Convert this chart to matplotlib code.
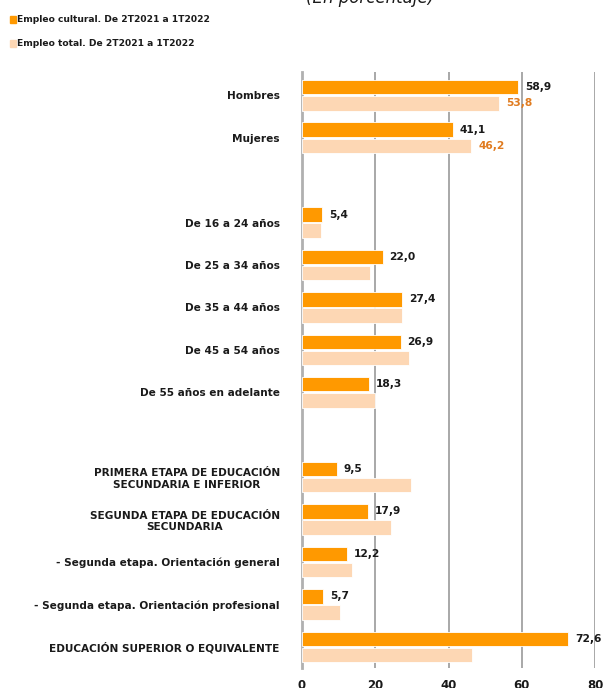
import matplotlib.pyplot as plt
from matplotlib.patches import Rectangle

plt.rcParams['font.family'] = ['DejaVu Sans']

# Categories (empty strings are spacer rows between groups)
categories = [
    "Hombres", "Mujeres", "",
    "De 16 a 24 años", "De 25 a 34 años", "De 35 a 44 años",
    "De 45 a 54 años", "De 55 años en adelante", "",
    "PRIMERA ETAPA DE EDUCACIÓN\nSECUNDARIA E INFERIOR",
    "SEGUNDA ETAPA DE EDUCACIÓN\nSECUNDARIA",
    "- Segunda etapa. Orientación general",
    "- Segunda etapa. Orientación profesional",
    "EDUCACIÓN SUPERIOR O EQUIVALENTE",
]
cultural = [58.9, 41.1, None, 5.4, 22.0, 27.4, 26.9, 18.3, None,
            9.5, 17.9, 12.2, 5.7, 72.6]
total = [53.8, 46.2, None, 5.2, 18.7, 27.3, 29.2, 19.8, None,
         29.8, 24.2, 13.7, 10.4, 46.3]
# only the sex rows carry labels for the total employment bars
n_total_labelled = 2

c_orange = "#ff9900"
c_light = "#fdd7b4"
c_label2 = "#e07b1f"
c_text = "#1a1a1a"

W, H = 603, 688
fig = plt.figure(figsize=(W / 100, H / 100), dpi=100)
ax = fig.add_axes([302 / W, 20 / H, 293 / W, 596 / H])

bh = 0.34
for i, (v1, v2) in enumerate(zip(cultural, total)):
    if v1 is None:
        continue
    ax.barh(i - bh / 2 - 0.02, v1, height=bh, color=c_orange,
            edgecolor="white", linewidth=0.6, zorder=3)
    ax.barh(i + bh / 2 + 0.02, v2, height=bh, color=c_light,
            edgecolor="white", linewidth=0.6, zorder=3)
    ax.annotate(f"{v1:.1f}".replace(".", ","), (v1, i - bh / 2 - 0.02),
                xytext=(7, 0), textcoords="offset pixels", va="center",
                ha="left", fontsize=7.7, fontweight="bold", color=c_text)
    if i < n_total_labelled:
        ax.annotate(f"{v2:.1f}".replace(".", ","), (v2, i + bh / 2 + 0.02),
                    xytext=(7, 0), textcoords="offset pixels", va="center",
                    ha="left", fontsize=7.7, fontweight="bold",
                    color=c_label2)

ax.set_xlim(0, 80)
ax.set_ylim(len(categories) - 0.5, -0.55)
ax.set_xticks([0, 20, 40, 60, 80])
ax.set_yticks(range(len(categories)))
ax.set_yticklabels(categories, multialignment="center")
ax.tick_params(axis="y", length=0, pad=16, labelsize=7.6, labelcolor=c_text)
ax.tick_params(axis="x", length=0, pad=8, labelsize=8.5, labelcolor=c_text)
for lab in ax.get_yticklabels() + ax.get_xticklabels():
    lab.set_fontweight("bold")

ax.grid(axis="x", color="#9a9a9a", linewidth=1.2, zorder=0)
for s in ["top", "right", "bottom"]:
    ax.spines[s].set_visible(False)
ax.spines["left"].set_color("#b0b0b0")
ax.spines["left"].set_linewidth(2)

# legend with small square keys
legend_items = [(c_orange, "Empleo cultural. De 2T2021 a 1T2022", 20),
                (c_light, "Empleo total. De 2T2021 a 1T2022", 44)]
for col, txt, ypix in legend_items:
    fig.patches.append(Rectangle((10 / W, 1 - (ypix + 3) / H), 6 / W, 7 / H,
                                 transform=fig.transFigure, color=col))
    fig.text(17 / W, 1 - ypix / H, txt, fontsize=6.6, fontweight="bold",
             va="center", color=c_text)

# title, cut at the top edge as in the reference
fig.text(370 / W, 1 + 2 / H, "(En porcentaje)", fontsize=12, style="italic",
         ha="center", va="center", color=c_text)

fig.savefig("out.png", dpi=100)
